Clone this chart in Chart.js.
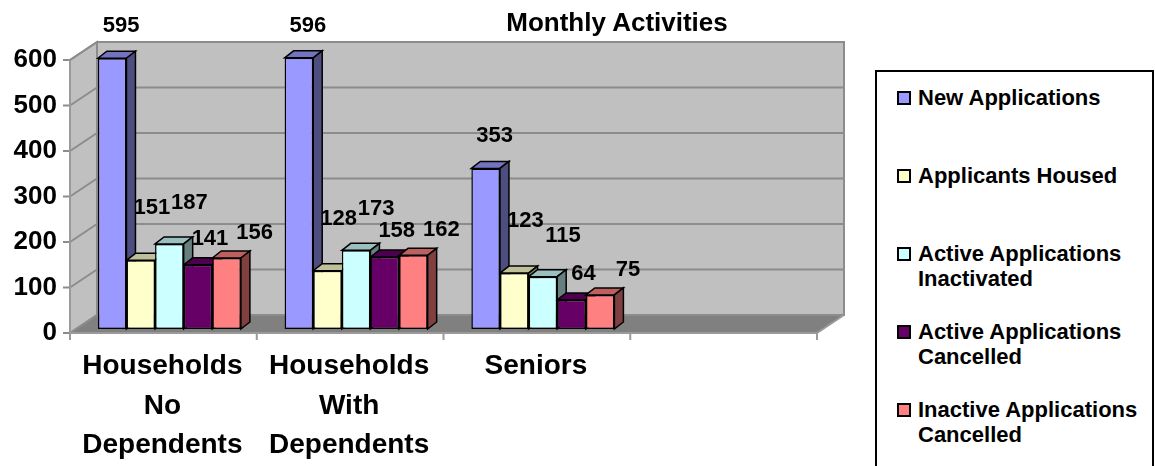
<!DOCTYPE html>
<html>
<head>
  <meta charset="UTF-8" />
  <title>Monthly Activities</title>
  <script src="https://cdn.jsdelivr.net/npm/chart.js"></script>
  <style>
    body {
      margin: 0;
      background: white;
      font-family: "Liberation Sans", Arial, sans-serif;
      overflow: hidden;
    }
    #wrap {
      position: relative;
      width: 1155px;
      height: 466px;
      overflow: hidden;
    }
    #title {
      position: absolute;
      left: 0;
      top: 8px;
      width: 1234px;
      text-align: center;
      font-weight: bold;
      font-size: 26px;
      line-height: 28px;
    }
    #legend {
      position: absolute;
      left: 875px;
      top: 70px;
      width: 279px;
      height: 430px;
      box-sizing: border-box;
      border: 2px solid #000;
      padding-top: 13px;
      background: white;
    }
    .item {
      position: relative;
      height: 78px;
      padding-left: 41px;
      font-weight: bold;
      font-size: 22px;
      line-height: 25px;
    }
    .swatch {
      position: absolute;
      left: 20px;
      top: 6px;
      width: 10px;
      height: 10px;
      border: 2px solid #000;
    }
  </style>
</head>
<body>
  <div id="wrap">
    <canvas id="chart" width="1155" height="466"></canvas>
    <div id="title">Monthly Activities</div>
    <div id="legend"></div>
  </div>
  <script>
    const categories = [['Households', 'No', 'Dependents'], ['Households', 'With', 'Dependents'], 'Seniors', ''];
    const seriesNames = ['New Applications', 'Applicants Housed', 'Active Applications Inactivated',
                         'Active Applications Cancelled', 'Inactive Applications Cancelled'];
    const newApplications   = [595, 596, 353];
    const applicantsHoused  = [151, 128, 123];
    const activeInactivated = [187, 173, 115];
    const activeCancelled   = [141, 158, 64];
    const inactiveCancelled = [156, 162, 75];
    const yTicks = [0, 100, 200, 300, 400, 500, 600];

    const seriesValues = [newApplications, applicantsHoused, activeInactivated, activeCancelled, inactiveCancelled];
    const colors = ['#9999FF', '#FFFFCC', '#CCFFFF', '#660066', '#FF8080'];
    // where each series' value label sits relative to the bar top (Excel 3D placement)
    const labelShift = [[9, -32], [11, -52], [20, -41], [12, -26], [28, -25]];

    // 3D offsets: front edge of floor, back wall, bar depth
    const FRONT = { x: -6, y: 4 };
    const BACK = { x: 21, y: -14 };
    const DEPTH = { x: 9, y: -7 };
    const FONT = '"Liberation Sans", Arial, sans-serif';

    function shade(hex, f) {
      const n = parseInt(hex.slice(1), 16);
      const r = Math.round(((n >> 16) & 255) * f);
      const g = Math.round(((n >> 8) & 255) * f);
      const b = Math.round((n & 255) * f);
      return 'rgb(' + r + ',' + g + ',' + b + ')';
    }

    function poly(ctx, pts, fill, stroke) {
      ctx.beginPath();
      ctx.moveTo(pts[0][0], pts[0][1]);
      for (let i = 1; i < pts.length; i++) ctx.lineTo(pts[i][0], pts[i][1]);
      ctx.closePath();
      if (fill) { ctx.fillStyle = fill; ctx.fill(); }
      if (stroke) { ctx.strokeStyle = stroke; ctx.stroke(); }
    }

    function line(ctx, x1, y1, x2, y2) {
      ctx.beginPath();
      ctx.moveTo(x1, y1);
      ctx.lineTo(x2, y2);
      ctx.stroke();
    }

    const wall3d = {
      id: 'wall3d',
      beforeDatasetsDraw(chart) {
        const { ctx, chartArea: a, scales: { x, y } } = chart;
        const L = a.left, R = a.right;
        const y0 = y.getPixelForValue(yTicks[0]);
        const yT = y.getPixelForValue(yTicks[yTicks.length - 1]);
        ctx.save();
        ctx.lineWidth = 2;
        const grid = '#8c8c8c';

        poly(ctx, [[L + FRONT.x, y0 + FRONT.y], [L + BACK.x, y0 + BACK.y], [R + BACK.x, y0 + BACK.y], [R + FRONT.x, y0 + FRONT.y]], '#808080', null);
        poly(ctx, [[L + FRONT.x, yT + FRONT.y], [L + BACK.x, yT + BACK.y], [L + BACK.x, y0 + BACK.y], [L + FRONT.x, y0 + FRONT.y]], '#C0C0C0', grid);
        poly(ctx, [[L + BACK.x, yT + BACK.y], [R + BACK.x, yT + BACK.y], [R + BACK.x, y0 + BACK.y], [L + BACK.x, y0 + BACK.y]], '#C0C0C0', grid);

        ctx.strokeStyle = grid;
        yTicks.forEach(v => {
          const p = y.getPixelForValue(v);
          line(ctx, L + FRONT.x, p + FRONT.y, L + BACK.x, p + BACK.y);
          line(ctx, L + BACK.x, p + BACK.y, R + BACK.x, p + BACK.y);
          line(ctx, L + FRONT.x - 7, p + FRONT.y, L + FRONT.x, p + FRONT.y);
        });
        ctx.strokeStyle = '#9a9a9a';
        line(ctx, L + FRONT.x, yT + FRONT.y, L + FRONT.x, y0 + FRONT.y);
        line(ctx, L + FRONT.x, y0 + FRONT.y, R + FRONT.x, y0 + FRONT.y);
        line(ctx, R + FRONT.x, y0 + FRONT.y, R + BACK.x, y0 + BACK.y);
        for (let i = 0; i <= categories.length; i++) {
          const px = x.getPixelForValue(i - 0.5) + FRONT.x;
          line(ctx, px, y0 + FRONT.y, px, y0 + FRONT.y + 7);
        }

        // side and top faces of the bars, fronts are drawn by Chart.js on top
        ctx.lineWidth = 1.5;
        chart.data.datasets.forEach((ds, di) => {
          chart.getDatasetMeta(di).data.forEach(bar => {
            const l = bar.x - bar.width / 2, r = bar.x + bar.width / 2, t = bar.y, b = bar.base;
            poly(ctx, [[l, t], [l + DEPTH.x, t + DEPTH.y], [r + DEPTH.x, t + DEPTH.y], [r, t]], shade(colors[di], 0.75), '#000');
            poly(ctx, [[r, t], [r + DEPTH.x, t + DEPTH.y], [r + DEPTH.x, b + DEPTH.y], [r, b]], shade(colors[di], 0.5), '#000');
          });
        });
        ctx.restore();
      },
      afterDatasetsDraw(chart) {
        const ctx = chart.ctx;
        ctx.save();
        ctx.font = 'bold 22px ' + FONT;
        ctx.fillStyle = '#000';
        ctx.textAlign = 'center';
        ctx.textBaseline = 'middle';
        chart.data.datasets.forEach((ds, di) => {
          chart.getDatasetMeta(di).data.forEach((bar, i) => {
            const v = ds.data[i];
            if (v == null) return;
            ctx.fillText(String(v), bar.x + labelShift[di][0], bar.y + labelShift[di][1]);
          });
        });
        ctx.restore();
      }
    };

    const chart = new Chart(document.getElementById('chart').getContext('2d'), {
      type: 'bar',
      data: {
        labels: categories,
        datasets: seriesValues.map((data, i) => ({
          label: seriesNames[i],
          data: data,
          backgroundColor: colors[i],
          borderColor: '#000',
          borderWidth: 1.5,
          borderSkipped: false,
          categoryPercentage: 0.766,
          barPercentage: 1
        }))
      },
      options: {
        responsive: false,
        animation: false,
        layout: { padding: { top: 56, right: 332, left: 0, bottom: 0 } },
        plugins: {
          legend: { display: false },
          tooltip: { enabled: false },
          title: { display: false }
        },
        scales: {
          x: {
            grid: { display: false, drawTicks: false },
            border: { display: false },
            ticks: {
              color: '#000',
              font: { family: FONT, size: 28, weight: 'bold', lineHeight: 1.4 },
              padding: 18,
              labelOffset: -7,
              maxRotation: 0,
              autoSkip: false
            },
            afterFit: s => { s.height = 137; }
          },
          y: {
            min: yTicks[0],
            max: yTicks[yTicks.length - 1],
            grid: { display: false, drawTicks: false },
            border: { display: false },
            ticks: {
              stepSize: yTicks[1] - yTicks[0],
              color: '#000',
              font: { family: FONT, size: 26, weight: 'bold' },
              padding: 19,
              labelOffset: 4
            },
            afterFit: s => { s.width = 76; }
          }
        }
      },
      plugins: [wall3d]
    });

    // legend built from the chart's datasets
    const legend = document.getElementById('legend');
    chart.data.datasets.forEach(ds => {
      const item = document.createElement('div');
      item.className = 'item';
      const sw = document.createElement('span');
      sw.className = 'swatch';
      sw.style.background = ds.backgroundColor;
      item.appendChild(sw);
      item.appendChild(document.createTextNode(ds.label));
      legend.appendChild(item);
    });
  </script>
</body>
</html>
